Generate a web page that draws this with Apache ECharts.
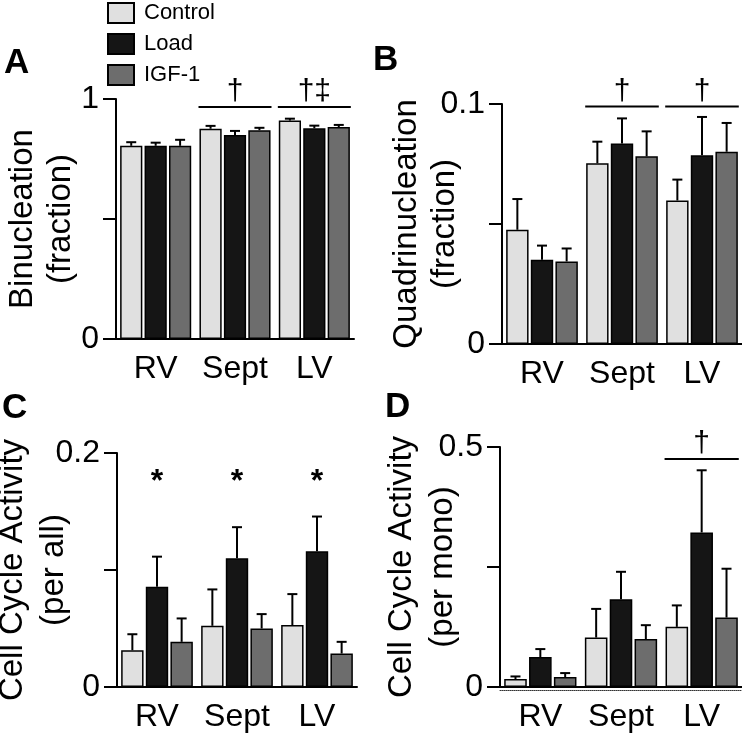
<!DOCTYPE html>
<html>
<head>
<meta charset="utf-8">
<script src="https://cdn.jsdelivr.net/npm/echarts@6/dist/echarts.min.js"></script>
<style>
html,body{margin:0;padding:0;background:#fff;}
#chart{width:742px;height:740px;}
</style>
</head>
<body>
<div id="chart"></div>
<script>
// ---------- data ----------
const categories = ['RV', 'Sept', 'LV'];
const groupNames = ['Control', 'Load', 'IGF-1'];

// Panel A: Binucleation (fraction)
const binucControl = [0.805, 0.876, 0.910];
const binucLoad    = [0.805, 0.850, 0.878];
const binucIGF     = [0.805, 0.870, 0.883];
const binucControlErr = [0.015, 0.012, 0.008];
const binucLoadErr    = [0.013, 0.017, 0.011];
const binucIGFErr     = [0.025, 0.010, 0.009];
const binucSigCats  = [1, 2];
const binucSigLevel = [0.967, 0.967];
const binucSigText  = ['†', '†‡'];

// Panel B: Quadrinucleation (fraction)
const quadControl = [0.0476, 0.0753, 0.0598];
const quadLoad    = [0.0351, 0.0835, 0.0786];
const quadIGF     = [0.0344, 0.0782, 0.0801];
const quadControlErr = [0.0128, 0.0090, 0.0087];
const quadLoadErr    = [0.0059, 0.0105, 0.0160];
const quadIGFErr     = [0.0054, 0.0104, 0.0120];
const quadSigCats  = [1, 2];
const quadSigLevel = [0.099, 0.099];
const quadSigText  = ['†', '†'];

// Panel C: Cell Cycle Activity (per all)
const ccAllControl = [0.0314, 0.0523, 0.0529];
const ccAllLoad    = [0.0857, 0.1100, 0.1160];
const ccAllIGF     = [0.0386, 0.0500, 0.0286];
const ccAllControlErr = [0.0137, 0.0311, 0.0265];
const ccAllLoadErr    = [0.0257, 0.0266, 0.0297];
const ccAllIGFErr     = [0.0200, 0.0123, 0.0100];
const ccAllSigCats  = [0, 1, 2];
const ccAllSigLevel = [0.175, 0.175, 0.175];
const ccAllSigText  = ['*', '*', '*'];

// Panel D: Cell Cycle Activity (per mono)
const ccMonoControl = [0.0166, 0.1030, 0.1253];
const ccMonoLoad    = [0.0623, 0.1828, 0.3220];
const ccMonoIGF     = [0.0208, 0.1000, 0.1447];
const ccMonoControlErr = [0.0054, 0.0597, 0.0447];
const ccMonoLoadErr    = [0.0167, 0.0572, 0.1295];
const ccMonoIGFErr     = [0.0082, 0.0288, 0.1017];
const ccMonoSigCats  = [2];
const ccMonoSigLevel = [0.475];
const ccMonoSigText  = ['†'];

// Axis tick settings
const yMaxes = [1, 0.1, 0.2, 0.5];
const yIntervals = [0.5, 0.05, 0.1, 0.25];
const yNames = ['Binucleation\n(fraction)', 'Quadrinucleation\n(fraction)', 'Cell Cycle Activity\n(per all)', 'Cell Cycle Activity\n(per mono)'];
const panelLetters = ['A', 'B', 'C', 'D'];

// ---------- styling / layout ----------
const FONT = '"Liberation Sans", Arial, Helvetica, sans-serif';
const colors = ['#e0e0e0', '#151515', '#6d6d6d'];
const grids = [
  {left: 116, top: 99, width: 238, height: 240},
  {left: 502, top: 104, width: 240, height: 240},
  {left: 117, top: 453, width: 240, height: 234},
  {left: 500, top: 447, width: 242, height: 240}
];
const nameGaps = [36, 38, 43, 37];
const nameLineHeights = [38, 38, 41, 41];
const letterPos = [[4, 46], [373, 43], [2, 391], [385, 390]];
const sigHasLine = [true, true, false, true];

const panels = [
  {means: [binucControl, binucLoad, binucIGF], errs: [binucControlErr, binucLoadErr, binucIGFErr], sigCats: binucSigCats, sigLevel: binucSigLevel, sigText: binucSigText},
  {means: [quadControl, quadLoad, quadIGF], errs: [quadControlErr, quadLoadErr, quadIGFErr], sigCats: quadSigCats, sigLevel: quadSigLevel, sigText: quadSigText},
  {means: [ccAllControl, ccAllLoad, ccAllIGF], errs: [ccAllControlErr, ccAllLoadErr, ccAllIGFErr], sigCats: ccAllSigCats, sigLevel: ccAllSigLevel, sigText: ccAllSigText},
  {means: [ccMonoControl, ccMonoLoad, ccMonoIGF], errs: [ccMonoControlErr, ccMonoLoadErr, ccMonoIGFErr], sigCats: ccMonoSigCats, sigLevel: ccMonoSigLevel, sigText: ccMonoSigText}
];

const BAR_W = 0.28, BAR_GAP = 0.10;
const offsets = [-BAR_W * (1 + BAR_GAP), 0, BAR_W * (1 + BAR_GAP)];

function errRender(offsetFrac) {
  return function (params, api) {
    const cat = api.value(0);
    const p0 = api.coord([cat, api.value(1)]);
    const p1 = api.coord([cat, api.value(2)]);
    const bw = api.size([1, 0])[0];
    const x = p0[0] + offsetFrac * bw;
    const cap = 5;
    return {
      type: 'group',
      children: [
        {type: 'line', shape: {x1: x, y1: p0[1], x2: x, y2: p1[1]}, style: {stroke: '#000', lineWidth: 2}},
        {type: 'line', shape: {x1: x - cap, y1: p1[1], x2: x + cap, y2: p1[1]}, style: {stroke: '#000', lineWidth: 2}}
      ]
    };
  };
}

function sigRender(panelIdx) {
  return function (params, api) {
    const cat = api.value(0);
    const p = api.coord([cat, api.value(1)]);
    const bw = api.size([1, 0])[0];
    const txt = panels[panelIdx].sigText[params.dataIndex];
    const children = [];
    if (sigHasLine[panelIdx]) {
      children.push({type: 'line', shape: {x1: p[0] - 0.46 * bw, y1: p[1], x2: p[0] + 0.46 * bw, y2: p[1]}, style: {stroke: '#000', lineWidth: 2}});
      children.push({type: 'text', style: {text: txt, x: p[0], y: p[1], textAlign: 'center', textVerticalAlign: 'bottom', fontSize: 30, fontFamily: FONT, fill: '#000'}});
    } else {
      children.push({type: 'text', style: {text: txt, x: p[0], y: p[1], textAlign: 'center', textVerticalAlign: 'middle', fontSize: 32, fontWeight: 'bold', fontFamily: FONT, fill: '#000'}});
    }
    return {type: 'group', children: children};
  };
}

const option = {
  animation: false,
  backgroundColor: '#fff',
  textStyle: {fontFamily: FONT},
  legend: {
    data: groupNames,
    orient: 'vertical',
    left: 107, top: 2,
    padding: 0,
    itemWidth: 26, itemHeight: 20, itemGap: 9,
    icon: 'rect',
    itemStyle: {borderColor: '#000', borderWidth: 2},
    textStyle: {fontSize: 22, color: '#000', fontFamily: FONT, padding: [0, 0, 0, 5]}
  },
  grid: grids.map(g => Object.assign({containLabel: false, outerBoundsMode: 'none'}, g)),
  xAxis: [],
  yAxis: [],
  series: [],
  graphic: panelLetters.map((L, i) => ({
    type: 'text', left: letterPos[i][0], top: letterPos[i][1],
    style: {text: L, fontSize: 35, fontWeight: 'bold', fontFamily: FONT, fill: '#000'}
  }))
};

panels.forEach((pn, i) => {
  option.xAxis.push({
    type: 'category', gridIndex: i, data: categories,
    axisLine: {lineStyle: {color: '#000', width: 2}},
    axisTick: {alignWithLabel: true, length: 13, lineStyle: {color: '#000', width: 2}},
    axisLabel: {fontSize: 32, color: '#000', margin: 14, fontFamily: FONT, interval: 0, hideOverlap: false}
  });
  const mx = yMaxes[i];
  option.yAxis.push({
    type: 'value', gridIndex: i, min: 0, max: mx, interval: yIntervals[i],
    name: yNames[i], nameLocation: 'middle', nameRotate: 90, nameGap: nameGaps[i],
    nameMoveOverlap: false,
    nameTextStyle: {fontSize: 33, lineHeight: nameLineHeights[i], color: '#000', fontFamily: FONT},
    axisLine: {show: true, lineStyle: {color: '#000', width: 2}},
    axisTick: {show: true, length: 13, lineStyle: {color: '#000', width: 2}},
    splitLine: {show: false},
    axisLabel: {
      fontSize: 32, color: '#000', margin: 17, fontFamily: FONT,
      formatter: v => (Math.abs(v) < 1e-9 || Math.abs(v - mx) < 1e-9) ? String(v === 0 ? 0 : mx) : ''
    }
  });
  pn.means.forEach((m, k) => {
    option.series.push({
      type: 'bar', name: groupNames[k], xAxisIndex: i, yAxisIndex: i,
      data: m, barWidth: (BAR_W * 100) + '%', barGap: (BAR_GAP * 100) + '%',
      itemStyle: {color: colors[k], borderColor: '#000', borderWidth: 1.5},
      z: 2
    });
  });
  pn.means.forEach((m, k) => {
    option.series.push({
      type: 'custom', name: groupNames[k] + ' SEM', xAxisIndex: i, yAxisIndex: i,
      data: m.map((v, c) => [c, v, v + pn.errs[k][c]]),
      renderItem: errRender(offsets[k]), z: 1, silent: true
    });
  });
  option.series.push({
    type: 'custom', name: 'sig' + i, xAxisIndex: i, yAxisIndex: i,
    data: pn.sigCats.map((c, j) => [c, pn.sigLevel[j]]),
    renderItem: sigRender(i), z: 3, silent: true
  });
});

// dotted baseline under panel D
option.xAxis.push({
  type: 'category', gridIndex: 3, data: categories, position: 'bottom', offset: 3,
  axisLine: {lineStyle: {color: '#333', width: 1, type: 'dotted'}},
  axisTick: {show: false}, axisLabel: {show: false}
});

const chart = echarts.init(document.getElementById('chart'), null, {renderer: 'canvas'});
chart.setOption(option);
</script>
</body>
</html>
